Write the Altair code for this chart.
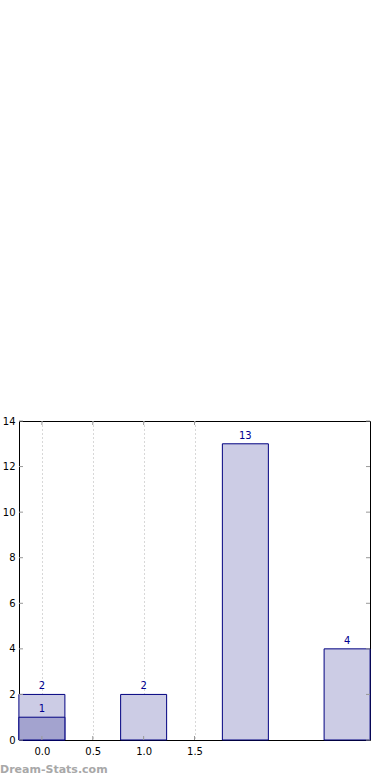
import altair as alt
import pandas as pd

# data
bar_x = [0, 1, 2, 3]
bar_counts = [2, 2, 13, 4]
overlap_x = [0]
overlap_counts = [1]
x_ticks = [0.0, 0.5, 1.0, 1.5]
y_ticks = [0, 2, 4, 6, 8, 10, 12, 14]
watermark = "Dream-Stats.com"

W, H = 351, 319
FONT = "DejaVu Sans"

bars_df = pd.DataFrame({"x": bar_x, "count": bar_counts})
over_df = pd.DataFrame({"x": overlap_x, "count": overlap_counts})
xt_df = pd.DataFrame({"t": x_ticks})
yt_df = pd.DataFrame({"t": y_ticks})

xscale = alt.Scale(domain=[-0.225, 3.225], nice=False, zero=False, padding=0)
yscale = alt.Scale(domain=[0, 14], nice=False, padding=0)

xaxis = alt.Axis(values=x_ticks, format=".1f", title=None, grid=True,
                 gridColor="#b0b0b0", gridDash=[1, 3], gridWidth=1,
                 ticks=False, domain=False, labelPadding=6, labelFontSize=10,
                 labelFont=FONT, labelColor="black")
yaxis = alt.Axis(values=y_ticks, format="d", title=None, grid=False,
                 ticks=False, domain=False, labelPadding=4, labelFontSize=10,
                 labelFont=FONT, labelColor="black")

base = alt.Chart(bars_df)

bars = base.mark_bar(size=46, fill="#ccccE5", stroke="#000080", strokeWidth=1).encode(
    x=alt.X("x:Q", scale=xscale, axis=xaxis),
    y=alt.Y("count:Q", scale=yscale, axis=yaxis),
)
over = alt.Chart(over_df).mark_bar(size=46, fill="#a3a3cf", stroke="#000080", strokeWidth=1).encode(
    x=alt.X("x:Q", scale=xscale),
    y=alt.Y("count:Q", scale=yscale),
)
labels = base.mark_text(dy=-8, fontSize=10, font=FONT, color="#000090").encode(
    x=alt.X("x:Q", scale=xscale),
    y=alt.Y("count:Q", scale=yscale),
    text=alt.Text("count:Q"),
)
over_labels = alt.Chart(over_df).mark_text(dy=-8, fontSize=10, font=FONT, color="#000090").encode(
    x=alt.X("x:Q", scale=xscale),
    y=alt.Y("count:Q", scale=yscale),
    text=alt.Text("count:Q"),
)

tick_color = "#999999"
ytick_l = alt.Chart(yt_df).mark_rule(color=tick_color).encode(
    y=alt.Y("t:Q", scale=yscale), x=alt.value(0), x2=alt.value(4))
ytick_r = alt.Chart(yt_df).mark_rule(color=tick_color).encode(
    y=alt.Y("t:Q", scale=yscale), x=alt.value(W - 4), x2=alt.value(W))
xtick_t = alt.Chart(xt_df).mark_rule(color=tick_color).encode(
    x=alt.X("t:Q", scale=xscale), y=alt.value(0), y2=alt.value(4))
xtick_b = alt.Chart(xt_df).mark_rule(color=tick_color).encode(
    x=alt.X("t:Q", scale=xscale), y=alt.value(H - 4), y2=alt.value(H))

wm = alt.Chart(pd.DataFrame({"w": [watermark]})).mark_text(
    align="left", baseline="middle", fontSize=11, font=FONT, fontWeight="bold",
    color="#a8a8a8").encode(
    text="w:N", x=alt.value(-19), y=alt.value(349))

chart = alt.layer(bars, over, labels, over_labels, ytick_l, ytick_r, xtick_t, xtick_b, wm).properties(
    width=W, height=H,
    autosize=alt.AutoSizeParams(type="none"),
    padding={"left": 19, "top": 421, "right": 20, "bottom": 40},
    background="white",
).configure_view(stroke="black", strokeWidth=1)

chart.save("out.html", embed_options={"renderer": "svg", "actions": False})
